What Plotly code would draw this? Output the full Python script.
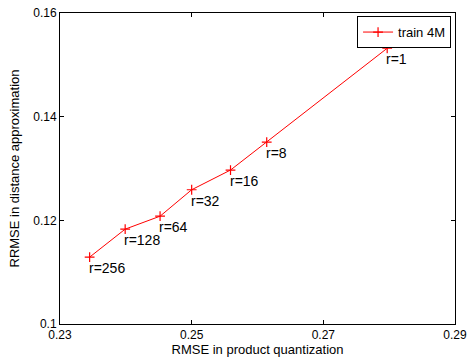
import plotly.graph_objects as go

rmse_pq = [0.2797, 0.2614, 0.2559, 0.2500, 0.2452, 0.2399, 0.2345]
rrmse_dist = [0.1532, 0.1351, 0.1297, 0.1259, 0.1208, 0.1183, 0.1129]
labels = ["r=1", "r=8", "r=16", "r=32", "r=64", "r=128", "r=256"]
x_ticks = [0.23, 0.25, 0.27, 0.29]
y_ticks = [0.1, 0.12, 0.14, 0.16]
y_ticklabels = ["0.1", "0.12", "0.14", "0.16"]

font = "Liberation Sans, Arial, sans-serif"

fig = go.Figure()
fig.add_trace(go.Scatter(
    x=rmse_pq, y=rrmse_dist, mode="lines+markers", name="train 4M",
    line=dict(color="#ff0000", width=1),
    marker=dict(symbol="cross-thin", size=7, line=dict(color="#ff0000", width=1.2)),
))

for xv, yv, t in zip(rmse_pq, rrmse_dist, labels):
    fig.add_annotation(x=xv, y=yv, text=t, showarrow=False,
                       xanchor="left", yanchor="top", xshift=-3, yshift=-1,
                       font=dict(family=font, size=14, color="black"))

axis_common = dict(
    showline=True, linecolor="black", linewidth=1, mirror="ticks",
    ticks="inside", ticklen=4, tickcolor="black", showgrid=False, zeroline=False,
    automargin=False,
    tickfont=dict(family=font, size=12, color="black"),
)

fig.update_layout(
    width=469, height=358,
    margin=dict(l=60, r=14, t=13, b=34),
    paper_bgcolor="white", plot_bgcolor="white",
    xaxis=dict(range=[0.23, 0.29], tickvals=x_ticks, ticktext=[f"{v:.2f}" for v in x_ticks],
               title=dict(text="RMSE in product quantization", standoff=0,
                          font=dict(family=font, size=13, color="black")),
               **axis_common),
    yaxis=dict(range=[0.1, 0.16], tickvals=y_ticks, ticktext=y_ticklabels,
               title=dict(text="RRMSE in distance approximation", standoff=10,
                          font=dict(family=font, size=13, color="black")),
               **axis_common),
    showlegend=True,
    legend=dict(x=0.99, y=0.99, xanchor="right", yanchor="top",
                bordercolor="black", borderwidth=1, bgcolor="white",
                font=dict(family=font, size=13, color="black"),
                itemwidth=30, tracegroupgap=0),
)

fig.write_html("out.html")
